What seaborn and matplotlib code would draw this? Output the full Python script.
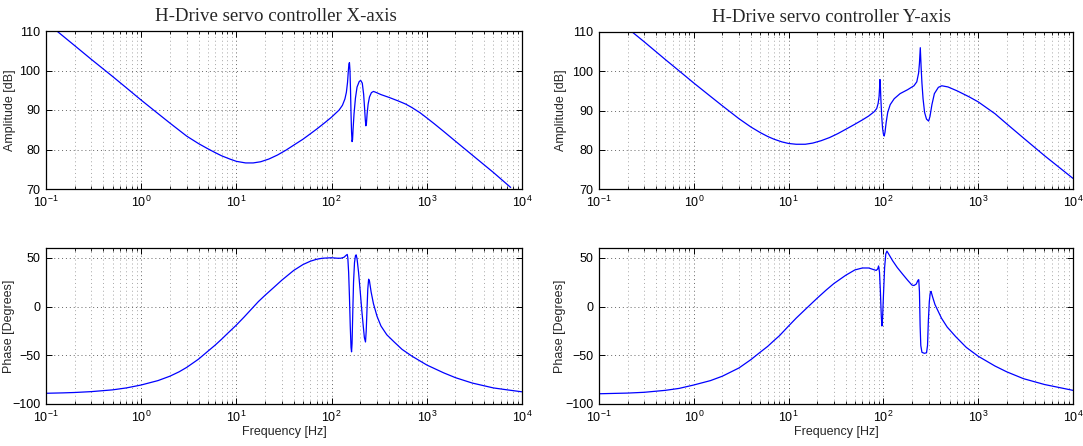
import matplotlib
matplotlib.use("Agg")
import matplotlib.pyplot as plt
import seaborn as sns
from matplotlib.ticker import LogLocator, NullFormatter, FixedLocator

# ---- Bode data: X-axis servo controller ----
freq_amp_x = [0.13, 0.2, 0.3, 0.5, 0.7, 1.0, 1.5, 2.0, 3.0, 4.0, 5.0, 6.0, 7.0, 8.5, 10, 12.5, 15,
              18, 22, 27, 33, 40, 50, 60, 70, 85, 100, 120, 130, 138, 143, 147, 150, 152, 154,
              156, 158, 160, 162, 164, 166, 168, 172, 178, 185, 195, 202, 210, 217, 222, 226,
              229, 232, 236, 242, 250, 262, 275, 290, 330, 400, 500, 600, 700, 850, 1000, 1200,
              1500, 2000, 3000, 5000, 7600]
amp_x = [110, 106.3, 102.8, 98.5, 95.6, 92.5, 89.1, 86.7, 83.4, 81.5, 80.2, 79.2, 78.4, 77.6, 77.0,
         76.6, 76.6, 76.9, 77.6, 78.6, 79.8, 81.1, 82.6, 84.0, 85.2, 86.8, 88.2, 90.0, 91.2, 92.8,
         94.5, 97.0, 100.0, 101.6, 102.0, 100.0, 95.0, 89.0, 84.5, 82.0, 82.5, 85.0, 89.0, 93.0,
         95.8, 97.2, 97.5, 96.8, 94.0, 90.5, 87.5, 86.0, 86.5, 89.0, 91.5, 93.3, 94.4, 94.7,
         94.5, 93.9, 93.2, 92.3, 91.5, 90.6, 89.3, 88.0, 86.5, 84.6, 82.1, 78.6, 74.2, 70.4]

freq_ph_x = [0.1, 0.15, 0.2, 0.3, 0.5, 0.7, 1.0, 1.5, 2.0, 2.5, 3.0, 4.0, 5.0, 6.0, 7.0, 8.0, 10,
             12, 14.6, 17, 20, 25, 30, 40, 50, 60, 70, 80, 100, 115, 125, 135, 142, 146, 148,
             151, 154, 157, 160, 162, 164, 167, 170, 174, 178, 181, 185, 192, 200, 208, 215, 221,
             227, 231, 235, 240, 245, 250, 260, 275, 300, 330, 380, 450, 550, 700, 1000, 1500,
             2000, 3000, 5000, 7000, 10000]
phase_x = [-89, -88.6, -88.2, -87.3, -85.5, -83.5, -80.5, -76, -71.5, -67, -62.5, -54, -46, -39.5,
           -33.5, -28, -19, -11, -2, 5, 11.5, 20, 27, 37, 43, 46.5, 48.5, 49.5, 50, 49.5, 49.5,
           50.5, 52.5, 53.4, 50, 35, 10, -20, -42, -46.5, -38, -5, 25, 45, 52, 53, 49, 35, 15,
           -5, -20, -32, -36.4, -25, -5, 18, 28, 26, 15, 3, -10, -20, -29, -36, -44, -51, -60,
           -68, -73, -78.5, -83.5, -85.5, -87.5]

# ---- Bode data: Y-axis servo controller ----
freq_amp_y = [0.224, 0.3, 0.5, 0.7, 1.0, 1.5, 2, 3, 4, 5, 6, 7, 8.5, 10, 12, 15, 18, 22, 27, 33, 40,
              50, 60, 70, 80, 85, 88, 90, 91, 92, 93, 94, 96, 98, 100, 102, 104, 107, 111, 118,
              130, 150, 180, 210, 225, 235, 240, 245, 250, 255, 262, 272, 285, 300, 310, 325,
              345, 380, 413, 480, 600, 800, 1000, 1500, 2000, 3000, 5000, 10000]
amp_y = [110, 107.5, 103, 100.1, 97, 93.6, 91.2, 87.9, 85.8, 84.4, 83.4, 82.7, 82.0, 81.6, 81.4,
         81.4, 81.7, 82.3, 83.1, 84.1, 85.2, 86.5, 87.6, 88.6, 89.7, 90.5, 91.8, 93.5, 95.5, 97.9,
         96, 93, 88.5, 85.5, 84, 83.5, 84.5, 87, 89.5, 91.5, 93, 94.3, 95.3, 96.3, 97.3, 99.5,
         102, 106, 101, 97, 93, 89.5, 87.8, 87.3, 88.5, 91.5, 94.3, 95.9, 96.3, 96.0, 95.0,
         93.5, 92.2, 89.2, 86.6, 83.0, 78.5, 72.7]

freq_ph_y = [0.1, 0.2, 0.3, 0.5, 0.7, 1, 1.5, 2, 3, 4, 5, 6, 7, 8, 10, 12, 15, 20, 25, 30, 40, 50,
             60, 70, 78, 84, 87, 89, 91, 93, 95, 96.5, 98, 100, 103, 106, 109, 115, 125, 140,
             160, 180, 200, 210, 222, 232, 236, 240, 244, 248, 255, 270, 285, 292, 298, 305, 312,
             318, 330, 350, 410, 470, 580, 750, 1000, 1500, 2000, 3000, 5000, 10000]
phase_y = [-89.5, -88.8, -88, -86, -84, -80.5, -76, -71.5, -63, -54.5, -47, -41, -35, -30, -20,
           -12, -3, 8.5, 17, 23.5, 32, 37.5, 39.5, 39.5, 38, 37, 38.5, 41.6, 35, 15, -10, -20,
           -12, 10, 40, 54, 56.8, 53, 47, 40, 33, 27, 22, 21.5, 23, 27, 27.5, 15, -20, -40, -47,
           -48, -47.5, -40, -15, 5, 14, 15.5, 10, 2, -12, -21, -31, -42, -51, -61, -67, -74, -80,
           -86]

titles = ["H-Drive servo controller X-axis", "H-Drive servo controller Y-axis"]
amp_ticks = [70, 80, 90, 100, 110]
phase_ticks = [-100, -50, 0, 50]

sns.set_theme(style="white")
plt.rcParams["font.family"] = ["Liberation Sans", "DejaVu Sans"]
plt.rcParams["mathtext.default"] = "regular"

W, H = 1083, 446
fig = plt.figure(figsize=(W / 100, H / 100), dpi=100)
fig.patch.set_facecolor("white")


def box(x0, y0, x1, y1):
    return [x0 / W, 1 - y1 / H, (x1 - x0) / W, (y1 - y0) / H]


def style_axes(ax, yticks, ylim):
    ax.set_xscale("log")
    ax.set_xlim(0.1, 1e4)
    ax.set_ylim(*ylim)
    ax.yaxis.set_major_locator(FixedLocator(yticks))
    ax.xaxis.set_major_locator(LogLocator(base=10, numticks=10))
    ax.xaxis.set_minor_locator(LogLocator(base=10, subs=range(2, 10), numticks=20))
    ax.xaxis.set_minor_formatter(NullFormatter())
    ax.grid(True, which="major", axis="both", color="0.4", linestyle=(0, (1, 3)), linewidth=0.7)
    ax.grid(True, which="minor", axis="x", color="0.65", linestyle=(0, (1, 3)), linewidth=0.7)
    ax.tick_params(which="both", direction="in", top=True, right=True, bottom=True, left=True,
                   labelsize=9, colors="black", pad=4)
    ax.tick_params(which="major", length=4, width=0.7)
    ax.tick_params(which="minor", length=2.2, width=0.6)
    for s in ax.spines.values():
        s.set_visible(True)
        s.set_color("black")
        s.set_linewidth(0.9)
    ax.set_facecolor("white")


panels = [
    (box(46, 31, 522, 189), freq_amp_x, amp_x, "amp", 0, -0.062, 0.482),
    (box(599, 32, 1073, 189), freq_amp_y, amp_y, "amp", 1, -0.067, 0.49),
    (box(46, 248, 522, 404), freq_ph_x, phase_x, "phase", 0, -0.066, 0.5),
    (box(599, 248, 1073, 404), freq_ph_y, phase_y, "phase", 1, -0.070, 0.5),
]

for rect, f, v, kind, col, lx, tx in panels:
    ax = fig.add_axes(rect)
    sns.lineplot(x=f, y=v, ax=ax, color=(0, 0, 1), linewidth=0.9, estimator=None, sort=False)
    if kind == "amp":
        style_axes(ax, amp_ticks, (70, 110))
        ax.set_ylabel("Amplitude [dB]", fontsize=9)
        ax.set_title(titles[col], fontsize=13.6, family=["Liberation Serif", "DejaVu Serif"],
                     pad=7, x=tx)
    else:
        style_axes(ax, phase_ticks, (-100, 60))
        ax.set_ylabel("Phase [Degrees]", fontsize=9)
        ax.set_xlabel("Frequency [Hz]", fontsize=9, labelpad=1)
    ax.yaxis.set_label_coords(lx, 0.5)

fig.savefig("out.png", dpi=100)
